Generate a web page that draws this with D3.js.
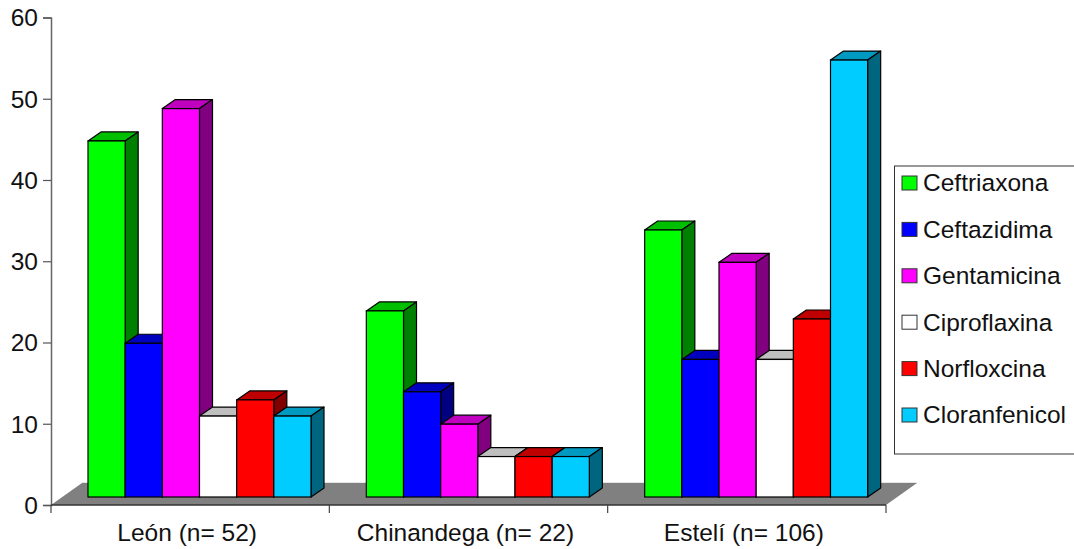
<!DOCTYPE html>
<html lang="es">
<head>
<meta charset="utf-8">
<script src="https://d3js.org/d3.v7.min.js"></script>
<style>
body { margin: 0; background: #fff; }
text { font-family: "Liberation Sans", sans-serif; fill: #111; }
</style>
</head>
<body>
<div id="chart"></div>
<script>
var categories = ["León (n= 52)", "Chinandega (n= 22)", "Estelí (n= 106)"];
var antibiotics = ["Ceftriaxona", "Ceftazidima", "Gentamicina", "Ciproflaxina", "Norfloxcina", "Cloranfenicol"];
var colors = ["#00ff00", "#0000ff", "#ff00ff", "#ffffff", "#ff0000", "#00ccff"];
var ceftriaxona = [44, 23, 33];
var ceftazidima = [19, 13, 17];
var gentamicina = [48, 9, 29];
var ciproflaxina = [10, 5, 17];
var norfloxcina = [12, 5, 22];
var cloranfenicol = [10, 5, 54];
var series = [ceftriaxona, ceftazidima, gentamicina, ciproflaxina, norfloxcina, cloranfenicol];
var yTicks = [0, 10, 20, 30, 40, 50, 60];

var width = 1074, height = 549;
var svg = d3.select("#chart").append("svg")
	.attr("width", width)
	.attr("height", height)
	.style("display", "block");

var y = d3.scaleLinear().domain([0, 60]).range([505, 17.5]);
// bars stand further back on the floor, so their scale is a bit shorter
var yBar = d3.scaleLinear().domain([0, 60]).range([497, 11.5]);
var x0 = d3.scaleBand().domain(categories).range([51, 886]);
// bars leave a gap of one bar on the left, half a bar on the right
var x1 = d3.scaleBand().domain(d3.range(6)).range([37, 260]);

// 3d offsets
var floorDx = 31, floorDy = 22;
var barDx = 13, barDy = 9;

function shade(c, k) {
	var r = d3.rgb(c);
	return d3.rgb(r.r * k, r.g * k, r.b * k).formatHex();
}

// floor
svg.append("polygon")
	.attr("points", [[51, 505], [886, 505], [886 + floorDx, 505 - floorDy], [51 + floorDx, 505 - floorDy]].join(" "))
	.attr("fill", "#808080");
svg.append("line")
	.attr("x1", 51 + floorDx).attr("x2", 886 + floorDx)
	.attr("y1", 505 - floorDy - 0.5).attr("y2", 505 - floorDy - 0.5)
	.attr("stroke", "#e6e6e6").attr("stroke-width", 1);

// axes
var yAxis = svg.append("g")
	.attr("transform", "translate(51,0)")
	.call(d3.axisLeft(y).tickValues(yTicks).tickSize(8).tickPadding(5));
yAxis.select(".domain").attr("stroke", "#666").attr("stroke-width", 1.5);
yAxis.selectAll(".tick line").attr("stroke", "#555").attr("stroke-width", 1.2);
yAxis.selectAll("text").style("font-size", "24.5px").attr("dy", "0.34em");

var xAxis = svg.append("g").attr("transform", "translate(0,505)");
xAxis.append("line")
	.attr("x1", 51).attr("x2", 886)
	.attr("stroke", "#333").attr("stroke-width", 1.3);
xAxis.selectAll(".xtick")
	.data(categories.concat([null]))
	.enter().append("line")
	.attr("class", "xtick")
	.attr("x1", function (d) { return d === null ? x0.range()[1] : x0(d); })
	.attr("x2", function (d) { return d === null ? x0.range()[1] : x0(d); })
	.attr("y1", 0).attr("y2", 8)
	.attr("stroke", "#444").attr("stroke-width", 1.2);
xAxis.selectAll(".xlabel")
	.data(categories)
	.enter().append("text")
	.attr("class", "xlabel")
	.attr("x", function (d) { return x0(d) + x0.bandwidth() / 2 - 3; })
	.attr("y", 36)
	.attr("text-anchor", "middle")
	.style("font-size", "24.5px")
	.text(function (d) { return d; });

// bars, left to right so each bar covers the side of the one before
categories.forEach(function (cat, c) {
	var g = svg.append("g").attr("class", "group");
	series.forEach(function (vals, s) {
		var left = x0(cat) + x1(s);
		var right = left + x1.bandwidth();
		var top = yBar(vals[c]);
		var bottom = yBar(0);
		var col = colors[s];
		g.append("polygon")
			.attr("points", [[left, top], [right, top], [right + barDx, top - barDy], [left + barDx, top - barDy]].join(" "))
			.attr("fill", shade(col, 0.75))
			.attr("stroke", "#000").attr("stroke-width", 1.2).attr("stroke-linejoin", "round");
		g.append("polygon")
			.attr("points", [[right, top], [right + barDx, top - barDy], [right + barDx, bottom - barDy], [right, bottom]].join(" "))
			.attr("fill", shade(col, 0.5))
			.attr("stroke", "#000").attr("stroke-width", 1.2).attr("stroke-linejoin", "round");
		g.append("rect")
			.attr("x", left).attr("y", top)
			.attr("width", x1.bandwidth()).attr("height", bottom - top)
			.attr("fill", col)
			.attr("stroke", "#000").attr("stroke-width", 1.2);
	});
});

// legend
var legendY = d3.scalePoint().domain(antibiotics).range([183, 415]);
svg.append("rect")
	.attr("x", 894.5).attr("y", 166)
	.attr("width", 200).attr("height", 288)
	.attr("fill", "#fff")
	.attr("stroke", "#333").attr("stroke-width", 1);
var item = svg.selectAll(".legend")
	.data(antibiotics)
	.enter().append("g")
	.attr("class", "legend")
	.attr("transform", function (d) { return "translate(902," + legendY(d) + ")"; });
item.append("rect")
	.attr("x", 0).attr("y", -7)
	.attr("width", 15).attr("height", 14)
	.attr("fill", function (d, i) { return colors[i]; })
	.attr("stroke", "#333").attr("stroke-width", 1);
item.append("text")
	.attr("x", 21)
	.attr("dy", "0.34em")
	.style("font-size", "24.5px")
	.text(function (d) { return d; });
</script>
</body>
</html>
